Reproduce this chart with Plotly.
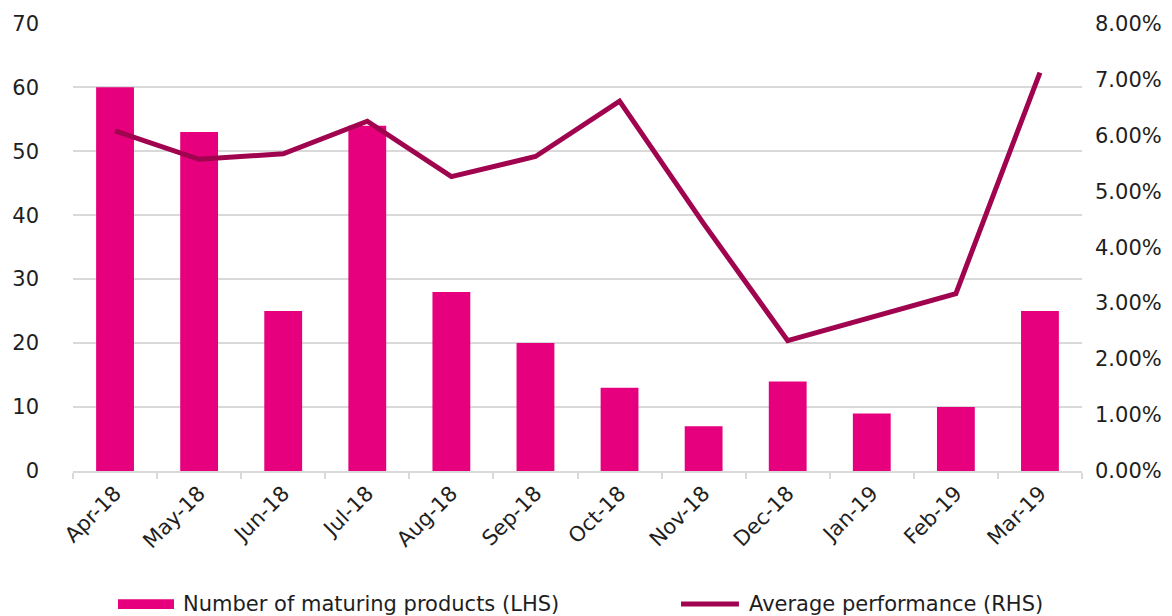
import plotly.graph_objects as go

# Monthly maturities and their average performance
months = ["Apr-18", "May-18", "Jun-18", "Jul-18", "Aug-18", "Sep-18",
          "Oct-18", "Nov-18", "Dec-18", "Jan-19", "Feb-19", "Mar-19"]
maturing_products = [60, 53, 25, 54, 28, 20, 13, 7, 14, 9, 10, 25]
avg_performance = [0.0608, 0.0557, 0.0567, 0.0625, 0.0526, 0.0562,
                   0.0661, 0.0442, 0.0233, 0.0275, 0.0317, 0.0712]

bar_name = "Number of maturing products (LHS)"
line_name = "Average performance (RHS)"

BAR_COLOR = "#E6007E"
LINE_COLOR = "#A0044F"
GRID_COLOR = "#D9D9D9"
TEXT_COLOR = "#1E1E1E"
FONT = "DejaVu Sans"
FS = 21

fig = go.Figure()
fig.add_trace(go.Bar(x=months, y=maturing_products, name=bar_name,
                     marker=dict(color=BAR_COLOR, line=dict(width=0)),
                     showlegend=False))
fig.add_trace(go.Scatter(x=months, y=avg_performance, name=line_name,
                         mode="lines", yaxis="y2",
                         line=dict(color=LINE_COLOR, width=5),
                         showlegend=False))

fig.update_layout(
    width=1172, height=616,
    margin=dict(l=73, r=90, t=23, b=145, autoexpand=False),
    paper_bgcolor="white", plot_bgcolor="white",
    font=dict(family=FONT, size=FS, color=TEXT_COLOR),
    bargap=0.55,
    xaxis=dict(type="category", showline=True, linecolor=GRID_COLOR, linewidth=1.5,
               ticks="outside", tickson="boundaries", ticklen=6, tickcolor=GRID_COLOR,
               tickwidth=1.5, tickangle=-45, showgrid=False, automargin=False,
               tickfont=dict(size=FS, color=TEXT_COLOR)),
    yaxis=dict(range=[0, 70.05], tickvals=[0, 10, 20, 30, 40, 50, 60, 70],
               showgrid=True, gridcolor=GRID_COLOR, automargin=False,
               gridwidth=1.5, zeroline=False, showline=False, ticks="",
               ticklabelstandoff=33, tickfont=dict(size=FS, color=TEXT_COLOR)),
    yaxis2=dict(range=[0, 0.08 * 70.05 / 70], tickvals=[i / 100 for i in range(9)],
                tickformat=".2%", overlaying="y", automargin=False,
                side="right", showgrid=False, zeroline=False, showline=False,
                ticks="", ticklabelstandoff=12,
                tickfont=dict(size=FS, color=TEXT_COLOR)),
)

# Legend drawn below the axis labels
legend_y = -0.297
fig.add_shape(type="rect", xref="paper", yref="paper",
              x0=0.0446, x1=0.1001, y0=legend_y - 0.011, y1=legend_y + 0.011,
              fillcolor=BAR_COLOR, line=dict(width=0))
fig.add_annotation(xref="paper", yref="paper", x=0.107, y=legend_y,
                   xanchor="left", yanchor="middle", showarrow=False,
                   text=bar_name, font=dict(size=FS, color=TEXT_COLOR))
fig.add_shape(type="line", xref="paper", yref="paper",
              x0=0.6026, x1=0.660, y0=legend_y, y1=legend_y,
              line=dict(color=LINE_COLOR, width=5))
fig.add_annotation(xref="paper", yref="paper", x=0.668, y=legend_y,
                   xanchor="left", yanchor="middle", showarrow=False,
                   text=line_name, font=dict(size=FS, color=TEXT_COLOR))

fig.write_html("out.html")
